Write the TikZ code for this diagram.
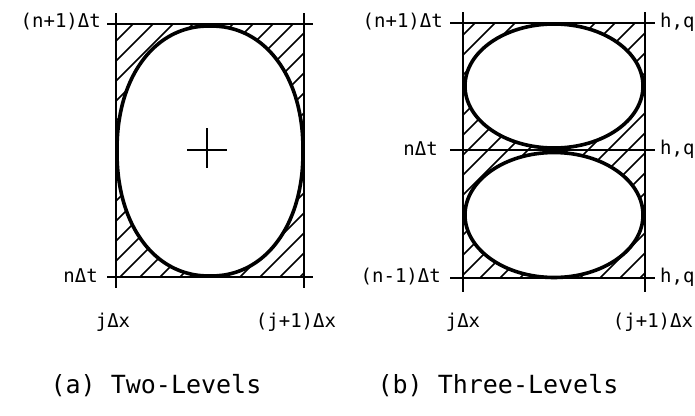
\documentclass[tikz,border=0pt]{standalone}
\usepackage{fontspec}
\setmonofont{DejaVu Sans Mono}
\usetikzlibrary{positioning}

\begin{document}
\begin{tikzpicture}[
    x=1pt, y=-1pt,
    grid/.style={line width=2.7pt},
    hatch/.style={line width=1.6pt},
    cell/.style={line width=3.6pt, fill=white},
    lbl/.style={font=\fontsize{19}{21}\selectfont\ttfamily, inner sep=0pt},
    captxt/.style={font=\fontsize{25}{27}\selectfont\ttfamily, inner sep=0pt}
  ]
  \useasboundingbox (0,0) rectangle (695,415);

  % (a) two levels
  \begin{scope}
    \clip (116,24) rectangle (304,277);
    \foreach \k in {-300,-280,...,320}
      \draw[hatch] (\k,277) -- ++(300,-300);
  \end{scope}
  \draw[cell] plot[domain=0:360, samples=180, smooth cycle]
    ({210+93*sign(cos(\x))*abs(cos(\x))^0.93}, {151+125*sign(sin(\x))*abs(sin(\x))^0.93});
  \draw[grid] (116,13) -- (116,288);
  \draw[grid] (304,13) -- (304,288);
  \draw[grid] (107,24) -- (313,24);
  \draw[grid] (107,277) -- (313,277);
  \draw[line width=1.5pt] (187,150) -- (227,150) (207,128) -- (207,168);

  \node[lbl, anchor=east] (ta1) at (101,22) {(n+1)Δt};
  \node[lbl, anchor=east] (ta0) at (98,276) {nΔt};
  \node[lbl] (xa0) at (113,322) {jΔx};
  \node[lbl] (xa1) at (296,322) {(j+1)Δx};

  % (b) three levels
  \begin{scope}
    \clip (463,23) rectangle (645,278);
    \foreach \k in {100,120,...,680}
      \draw[hatch] (\k,278) -- ++(300,-300);
  \end{scope}
  \draw[cell] (554,86) ellipse [x radius=89, y radius=62];
  \draw[cell] (554,215) ellipse [x radius=89, y radius=62.5];
  \draw[grid] (463,12) -- (463,292);
  \draw[grid] (645,12) -- (645,292);
  \foreach \y in {23,150,278}
    \draw[grid] (450,\y) -- (655,\y);

  \node[lbl, anchor=east] (tb2) at (443,22) {(n+1)Δt};
  \node[lbl, anchor=east] (tb1) at (438,149) {nΔt};
  \node[lbl, anchor=east] (tb0) at (441,277) {(n-1)Δt};
  \node[lbl, anchor=west] (hq2) at (660,22) {h,q};
  \node[lbl, anchor=west] (hq1) at (660,149) {h,q};
  \node[lbl, anchor=west] (hq0) at (660,277) {h,q};
  \node[lbl] (xb0) at (463,322) {jΔx};
  \node[lbl] (xb1) at (653,322) {(j+1)Δx};

  % captions
  \node[captxt] (capa) at (156,386) {(a) Two-Levels};
  \node[captxt] (capb) at (498,386) {(b) Three-Levels};
\end{tikzpicture}
\end{document}
